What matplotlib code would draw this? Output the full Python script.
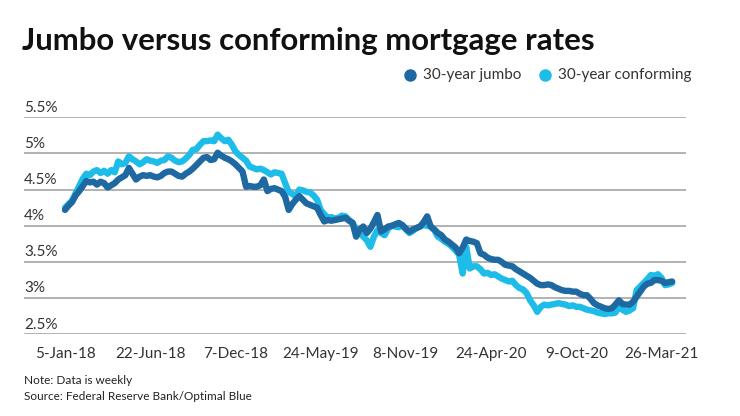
import matplotlib
matplotlib.use("Agg")
import matplotlib.pyplot as plt
from matplotlib.lines import Line2D
import matplotlib.transforms as mtransforms

plt.rcParams['font.family'] = ['Lato', 'DejaVu Sans']

# weekly data, 5-Jan-18 onwards
jumbo = [
    4.22, 4.28, 4.33, 4.42, 4.48, 4.55, 4.62, 4.60, 4.61, 4.57,
    4.61, 4.59, 4.53, 4.56, 4.59, 4.64, 4.67, 4.70, 4.80, 4.72,
    4.64, 4.68, 4.70, 4.69, 4.70, 4.68, 4.67, 4.69, 4.73, 4.75,
    4.75, 4.72, 4.69, 4.68, 4.72, 4.75, 4.79, 4.84, 4.89, 4.94,
    4.95, 4.91, 4.92, 5.01, 4.97, 4.94, 4.92, 4.89, 4.85, 4.80,
    4.75, 4.54, 4.55, 4.54, 4.54, 4.56, 4.64, 4.48, 4.51, 4.52,
    4.50, 4.48, 4.40, 4.22, 4.30, 4.36, 4.41, 4.36, 4.31, 4.29,
    4.27, 4.25, 4.15, 4.06, 4.08, 4.07, 4.08, 4.09, 4.10, 4.11,
    4.07, 4.04, 3.85, 3.95, 3.99, 3.90, 3.96, 4.05, 4.15, 3.92,
    3.95, 3.99, 4.00, 4.02, 4.04, 4.01, 3.96, 3.92, 3.95, 3.97,
    3.99, 4.05, 4.13, 3.99, 3.95, 3.90, 3.87, 3.81, 3.78, 3.74,
    3.70, 3.62, 3.70, 3.81, 3.79, 3.78, 3.76, 3.62, 3.60, 3.56,
    3.54, 3.53, 3.53, 3.50, 3.46, 3.45, 3.44, 3.40, 3.37, 3.34,
    3.31, 3.28, 3.24, 3.20, 3.18, 3.18, 3.19, 3.18, 3.15, 3.13,
    3.11, 3.10, 3.10, 3.09, 3.09, 3.06, 3.04, 3.04, 2.99, 2.93,
    2.90, 2.88, 2.86, 2.85, 2.86, 2.91, 2.97, 2.92, 2.91, 2.91,
    2.95, 3.02, 3.09, 3.16, 3.20, 3.21, 3.25, 3.25, 3.24, 3.21,
    3.22, 3.23,
]
conforming = [
    4.25, 4.30, 4.35, 4.45, 4.55, 4.65, 4.72, 4.70, 4.75, 4.77,
    4.73, 4.76, 4.72, 4.77, 4.74, 4.89, 4.85, 4.87, 4.96, 4.92,
    4.89, 4.85, 4.88, 4.92, 4.90, 4.89, 4.87, 4.90, 4.91, 4.96,
    4.94, 4.90, 4.88, 4.89, 4.93, 4.98, 5.05, 5.06, 5.12, 5.17,
    5.17, 5.18, 5.17, 5.26, 5.21, 5.17, 5.19, 5.12, 5.03, 4.98,
    4.94, 4.90, 4.82, 4.80, 4.78, 4.79, 4.77, 4.74, 4.71, 4.74,
    4.73, 4.72, 4.59, 4.47, 4.44, 4.41, 4.50, 4.49, 4.47, 4.46,
    4.42, 4.36, 4.22, 4.16, 4.11, 4.12, 4.10, 4.11, 4.14, 4.13,
    4.08, 4.04, 3.95, 3.90, 3.85, 3.80, 3.71, 3.85, 3.94, 3.90,
    3.87, 3.96, 4.00, 3.99, 3.98, 4.01, 3.95, 3.90, 3.93, 3.97,
    3.99, 4.01, 4.00, 3.99, 3.94, 3.85, 3.82, 3.78, 3.75, 3.71,
    3.66, 3.60, 3.34, 3.71, 3.41, 3.44, 3.44, 3.40, 3.34, 3.35,
    3.32, 3.33, 3.30, 3.27, 3.25, 3.23, 3.24, 3.18, 3.14, 3.12,
    3.07, 2.97, 2.90, 2.81, 2.88, 2.91, 2.90, 2.91, 2.92, 2.93,
    2.92, 2.91, 2.89, 2.90, 2.88, 2.88, 2.86, 2.84, 2.83, 2.82,
    2.80, 2.79, 2.78, 2.79, 2.79, 2.80, 2.88, 2.84, 2.81, 2.83,
    2.86, 3.11, 3.16, 3.21, 3.26, 3.32, 3.31, 3.33, 3.28, 3.18,
    3.19, 3.21,
]
date_labels = ["5-Jan-18", "22-Jun-18", "7-Dec-18", "24-May-19",
               "8-Nov-19", "24-Apr-20", "9-Oct-20", "26-Mar-21"]
y_ticks = [2.5, 3.0, 3.5, 4.0, 4.5, 5.0, 5.5]
y_labels = ["2.5%", "3%", "3.5%", "4%", "4.5%", "5%", "5.5%"]

DARK = "#1f69a3"
LIGHT = "#1ebde9"
TXT = "#333333"

fig = plt.figure(figsize=(7.4, 4.16), dpi=100)
ax = fig.add_axes([24/740, 81.7/416, (686-24)/740, (334.3-117.3)/416])

weeks = list(range(len(jumbo)))
ax.plot(weeks, conforming, color=LIGHT, lw=4.6, solid_joinstyle='round', solid_capstyle='round')
ax.plot(weeks, jumbo, color=DARK, lw=4.6, solid_joinstyle='round', solid_capstyle='round')

ax.set_xlim(-11.55, 174.9)
ax.set_ylim(2.5, 5.5)
for s in ax.spines.values():
    s.set_visible(False)
ax.set_yticks(y_ticks)
ax.set_yticklabels([])
ax.grid(axis='y', color='#a6a6a6', lw=1.2)
ax.set_axisbelow(True)
ax.tick_params(axis='y', length=0)
ax.set_xticks([i * 24 for i in range(len(date_labels))])
ax.set_xticklabels(date_labels, fontsize=11, color=TXT)
ax.tick_params(axis='x', length=0, pad=9)

# y labels sit on top of the gridlines
off = mtransforms.offset_copy(ax.get_yaxis_transform(), fig=fig, y=2, units='points')
for v, lab in zip(y_ticks, y_labels):
    ax.text(0, v, lab, transform=off, fontsize=11, color=TXT, ha='left', va='bottom')

fig.text(22/740, 1 - 50/416, "Jumbo versus conforming mortgage rates",
         fontsize=22.4, fontweight='bold', color='#111111', va='baseline')

# legend
ly = 1 - 75/416
fig.add_artist(Line2D([410/740], [ly], marker='o', ms=8, color=DARK, transform=fig.transFigure))
fig.text(423/740, ly, "30-year jumbo", fontsize=11, color=TXT, va='center')
fig.add_artist(Line2D([545/740], [ly], marker='o', ms=8, color=LIGHT, transform=fig.transFigure))
fig.text(558/740, ly, "30-year conforming", fontsize=11, color=TXT, va='center')

fig.text(24/740, 1 - 381/416, "Note: Data is weekly", fontsize=8.5, color='#222222', va='center')
fig.text(24/740, 1 - 396/416, "Source: Federal Reserve Bank/Optimal Blue", fontsize=8.5, color='#222222', va='center')

fig.savefig("out.png", dpi=100)
